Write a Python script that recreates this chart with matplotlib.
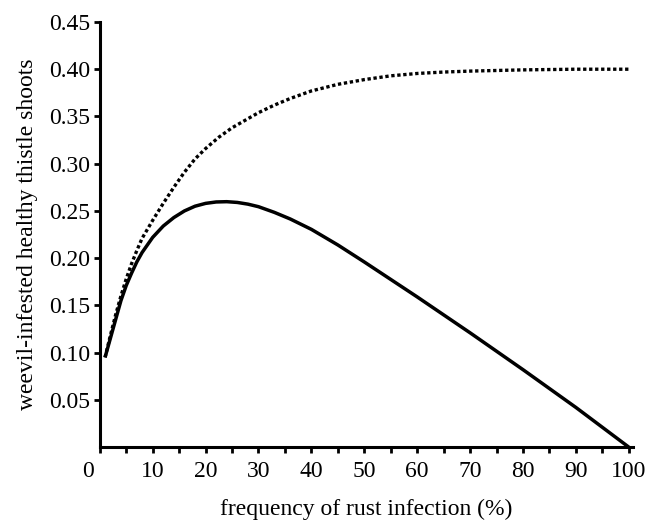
import matplotlib
matplotlib.use("Agg")
import matplotlib.pyplot as plt
import matplotlib.transforms as mtransforms

# frequency of rust infection (%)
solid_x = [1, 2, 3, 4, 5, 6, 7, 8, 10, 12, 14, 16, 18, 20, 22, 24, 26, 28, 30,
           33, 36, 40, 45, 50, 60, 70, 80, 90, 100]
solid_y = [0.095, 0.115, 0.135, 0.155, 0.171, 0.184, 0.196, 0.206, 0.222, 0.234,
           0.243, 0.250, 0.255, 0.258, 0.2595, 0.2598, 0.2590, 0.2572, 0.2545,
           0.2485, 0.2415, 0.2305, 0.214, 0.196, 0.159, 0.121, 0.082, 0.042, 0.0]

dotted_x = [1, 2, 3, 4, 5, 6, 7, 8, 10, 12, 14, 16, 18, 20, 22.5, 25, 27.5, 30,
            33, 36, 40, 45, 50, 55, 60, 65, 70, 80, 90, 100]
dotted_y = [0.095, 0.118, 0.140, 0.160, 0.178, 0.194, 0.208, 0.221, 0.240, 0.258,
            0.275, 0.291, 0.305, 0.316, 0.328, 0.338, 0.346, 0.354, 0.362, 0.369,
            0.377, 0.384, 0.389, 0.393, 0.3955, 0.397, 0.398, 0.3993, 0.400, 0.400]

x_ticks = [0, 10, 20, 30, 40, 50, 60, 70, 80, 90, 100]
y_ticks = [0.05, 0.10, 0.15, 0.20, 0.25, 0.30, 0.35, 0.40, 0.45]

plt.rcParams['font.family'] = ['Liberation Serif', 'DejaVu Serif']

fig = plt.figure(figsize=(6.65, 5.23), dpi=100)
ax = fig.add_axes([0.150, 0.145, 0.802, 0.813])

ax.plot(dotted_x, dotted_y, color='black', linewidth=2.4, linestyle=(0, (1, 0.8)))
ax.plot(solid_x, solid_y, color='black', linewidth=2.5, solid_capstyle='butt')

ax.set_xlim(0, 100.8)
ax.set_ylim(0, 0.45)
ax.set_xticks(x_ticks)
ax.set_xticks(range(5, 100, 10), minor=True)
ax.set_yticks(y_ticks)
ax.set_yticklabels([f"{v:.2f}" for v in y_ticks])

for side in ['top', 'right']:
    ax.spines[side].set_visible(False)
for side in ['left', 'bottom']:
    ax.spines[side].set_linewidth(2.2)

ax.tick_params(axis='both', which='both', direction='out', width=2, length=4,
               labelsize=17, colors='black')
ax.tick_params(axis='x', pad=6)
ax.tick_params(axis='y', pad=3)

# "0" sits left of the y axis in the original
lbl0 = ax.get_xticklabels()[0]
lbl0.set_transform(lbl0.get_transform() +
                   mtransforms.ScaledTranslation(-0.12, 0, fig.dpi_scale_trans))

ax.set_xlabel("frequency of rust infection (%)", fontsize=17, labelpad=12)
ax.set_ylabel("weevil-infested healthy thistle shoots", fontsize=17, labelpad=8)

fig.savefig("out.png", dpi=100)
